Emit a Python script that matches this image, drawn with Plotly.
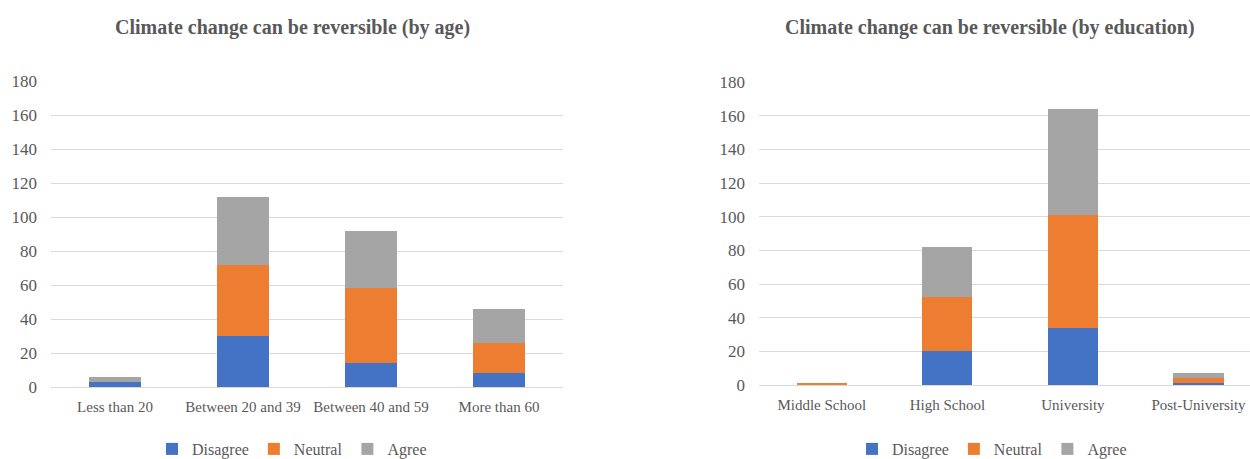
import plotly.graph_objects as go

age_categories = ["Less than 20", "Between 20 and 39", "Between 40 and 59", "More than 60"]
age_disagree = [3, 30, 14, 8]
age_neutral = [0, 42, 44, 18]
age_agree = [3, 40, 34, 20]

edu_categories = ["Middle School", "High School", "University", "Post-University"]
edu_disagree = [0, 20, 34, 1]
edu_neutral = [1, 32, 67, 3]
edu_agree = [0, 30, 63, 3]

series_names = ["Disagree", "Neutral", "Agree"]
colors = ["#4472C4", "#ED7D31", "#A5A5A5"]
y_ticks = [0, 20, 40, 60, 80, 100, 120, 140, 160, 180]

W, H = 1250, 459
ML, MR, MT, MB = 51, 0, 81, 72
PW = W - ML - MR
PH = H - MT - MB

def px_x(p):
    return (p - ML) / PW

def px_y(p):
    return (H - MB - p) / PH

FONT = "Liberation Serif, Times New Roman, serif"
TXT = "#595959"

fig = go.Figure()
for name, vals, col in zip(series_names, [age_disagree, age_neutral, age_agree], colors):
    fig.add_trace(go.Bar(x=age_categories, y=vals, name=name, marker_color=col,
                         marker_line_width=0, xaxis="x", yaxis="y", legend="legend"))
for name, vals, col in zip(series_names, [edu_disagree, edu_neutral, edu_agree], colors):
    fig.add_trace(go.Bar(x=edu_categories, y=vals, name=name, marker_color=col,
                         marker_line_width=0, xaxis="x2", yaxis="y2", legend="legend2"))

axis_common = dict(showgrid=False, showline=True, linecolor="#d9d9d9", linewidth=1,
                   ticks="", automargin=False, ticklabelstandoff=6,
                   tickfont=dict(family=FONT, size=15, color=TXT))
yaxis_common = dict(range=[0, 180], tickvals=y_ticks, showgrid=True, gridcolor="#d9d9d9",
                    gridwidth=1, zeroline=False, showline=False, ticks="", automargin=False,
                    ticklabelstandoff=13,
                    tickfont=dict(family=FONT, size=17, color=TXT))

legend_common = dict(orientation="h", y=px_y(449), yanchor="middle", xanchor="center",
                     font=dict(family=FONT, size=16, color=TXT), itemwidth=30,
                     traceorder="normal", bgcolor="rgba(0,0,0,0)")

fig.update_layout(
    width=W, height=H,
    margin=dict(l=ML, r=MR, t=MT, b=MB, autoexpand=False),
    paper_bgcolor="white", plot_bgcolor="white",
    barmode="stack", bargap=0.6,
    xaxis=dict(domain=[0, px_x(563)], range=[-0.5, 3.5], anchor="y", **axis_common),
    yaxis=dict(domain=[0, 1], anchor="x", **yaxis_common),
    xaxis2=dict(domain=[px_x(759), 1], range=[-0.5, 3.41], anchor="y2", **axis_common),
    yaxis2=dict(domain=[px_y(385), px_y(82)], anchor="x2", **yaxis_common),
    legend=dict(x=px_x(292), **legend_common),
    legend2=dict(x=px_x(992), **legend_common),
    annotations=[
        dict(text="<b>Climate change can be reversible (by age)</b>", x=px_x(292), y=px_y(28),
             xref="paper", yref="paper", showarrow=False, xanchor="center", yanchor="middle",
             font=dict(family=FONT, size=20, color=TXT)),
        dict(text="<b>Climate change can be reversible (by education)</b>", x=px_x(990), y=px_y(28),
             xref="paper", yref="paper", showarrow=False, xanchor="center", yanchor="middle",
             font=dict(family=FONT, size=20, color=TXT)),
    ],
)

fig.write_html("out.html", config={"displayModeBar": False},
               post_script="document.body.style.margin='0px';document.body.style.overflow='hidden';")
